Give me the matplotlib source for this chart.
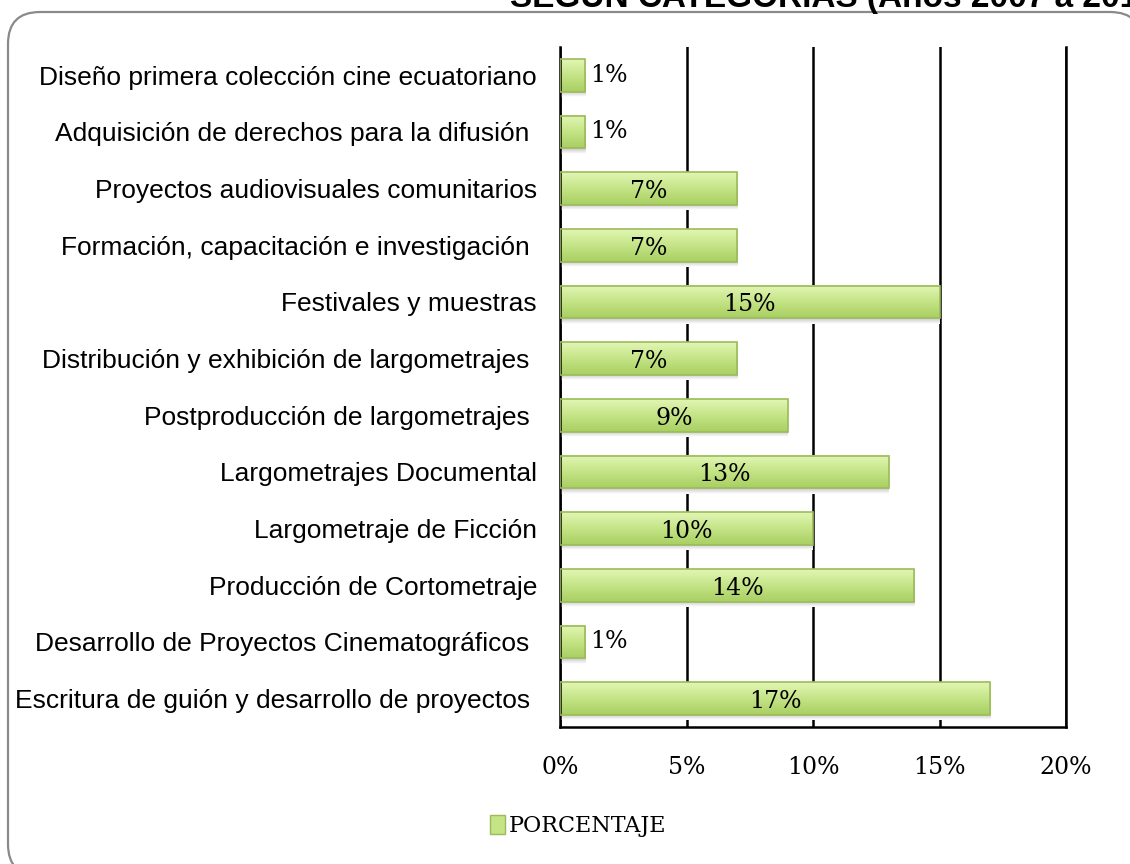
import numpy as np
import matplotlib
matplotlib.use('Agg')
import matplotlib.pyplot as plt
from matplotlib.colors import LinearSegmentedColormap
from matplotlib.patches import FancyBboxPatch, Patch

categories = [
    'Diseño primera colección cine ecuatoriano',
    'Adquisición de derechos para la difusión ',
    'Proyectos audiovisuales comunitarios',
    'Formación, capacitación e investigación ',
    'Festivales y muestras',
    'Distribución y exhibición de largometrajes ',
    'Postproducción de largometrajes ',
    'Largometrajes Documental',
    'Largometraje de Ficción',
    'Producción de Cortometraje',
    'Desarrollo de Proyectos Cinematográficos ',
    'Escritura de guión y desarrollo de proyectos ',
]
porcentaje = [1, 1, 7, 7, 15, 7, 9, 13, 10, 14, 1, 17]
xticks = [0, 5, 10, 15, 20]
xtick_labels = ['0%', '5%', '10%', '15%', '20%']
title = 'SEGÚN CATEGORÍAS (Años 2007 a 2011)'

SANS = ['Liberation Sans', 'DejaVu Sans']
SERIF = ['DejaVu Serif']

fig = plt.figure(figsize=(11.3, 8.64), dpi=100)

# rounded frame around the chart
frame = FancyBboxPatch((0.08, -0.12), 11.34, 8.64,
                       boxstyle='round,pad=0,rounding_size=0.32',
                       transform=fig.dpi_scale_trans, facecolor='white',
                       edgecolor='#8a8a8a', linewidth=1.6, zorder=-1)
fig.patches.append(frame)

fig.text(510 / 1130, 1 - 7 / 864, title, fontsize=24, fontweight='bold',
         family=SANS, ha='left', va='baseline')

ax = fig.add_axes([560 / 1130, 1 - 727 / 864, 506 / 1130, 680 / 864])
ax.set_facecolor('none')

y = np.arange(len(categories))
bars = ax.barh(y, porcentaje, height=0.58, facecolor='none',
               edgecolor='#9bbb59', linewidth=1.2, zorder=3)

cmap = LinearSegmentedColormap.from_list('g', ['#e2f6b4', '#c4e486', '#a9cf62'])
grad = np.linspace(0, 1, 64).reshape(-1, 1)
for p in bars:
    x0, y0, w, h = p.get_x(), p.get_y(), p.get_width(), p.get_height()
    ax.imshow(grad, extent=[x0, x0 + w, y0 + h, y0], origin='upper',
              aspect='auto', cmap=cmap, zorder=2.5, interpolation='bilinear')
    # faint shadow under each bar
    ax.imshow(np.linspace(0, 1, 16).reshape(-1, 1),
              extent=[x0, x0 + w, y0 + h + 0.09, y0 + h], origin='upper',
              aspect='auto', cmap=LinearSegmentedColormap.from_list('s', ['#c8c8c8', '#ffffff']),
              zorder=2.4)

ax.set_xlim(0, 20)
ax.set_ylim(len(categories) - 0.5, -0.5)

ax.set_yticks(y)
ax.set_yticklabels(categories, fontsize=19, family=SANS)
ax.set_xticks(xticks)
ax.set_xticklabels(xtick_labels, fontsize=17, family=SERIF)
ax.tick_params(axis='y', length=0, pad=16.5)
ax.tick_params(axis='x', length=0, pad=21)

ax.set_axisbelow(True)
ax.xaxis.grid(True, color='black', linewidth=1.8)
ax.spines['top'].set_visible(False)
for side in ['left', 'bottom', 'right']:
    ax.spines[side].set_linewidth(1.8)
    ax.spines[side].set_color('black')

for yi, v in zip(y, porcentaje):
    if v <= 1:
        ax.text(v + 0.2, yi, f'{v}%', ha='left', va='center',
                fontsize=17, family=SERIF, zorder=4)
    else:
        ax.text(v / 2, yi + 0.05, f'{v}%', ha='center', va='center',
                fontsize=17, family=SERIF, zorder=4)

handle = Patch(facecolor='#c4e486', edgecolor='#9bbb59')
fig.legend([handle], ['PORCENTAJE'], loc='center',
           bbox_to_anchor=(578 / 1130, 1 - 826 / 864), frameon=False,
           prop={'family': SERIF, 'size': 16}, handlelength=0.7,
           handleheight=0.9, handletextpad=0.15)

fig.savefig('out.png', dpi=100)
